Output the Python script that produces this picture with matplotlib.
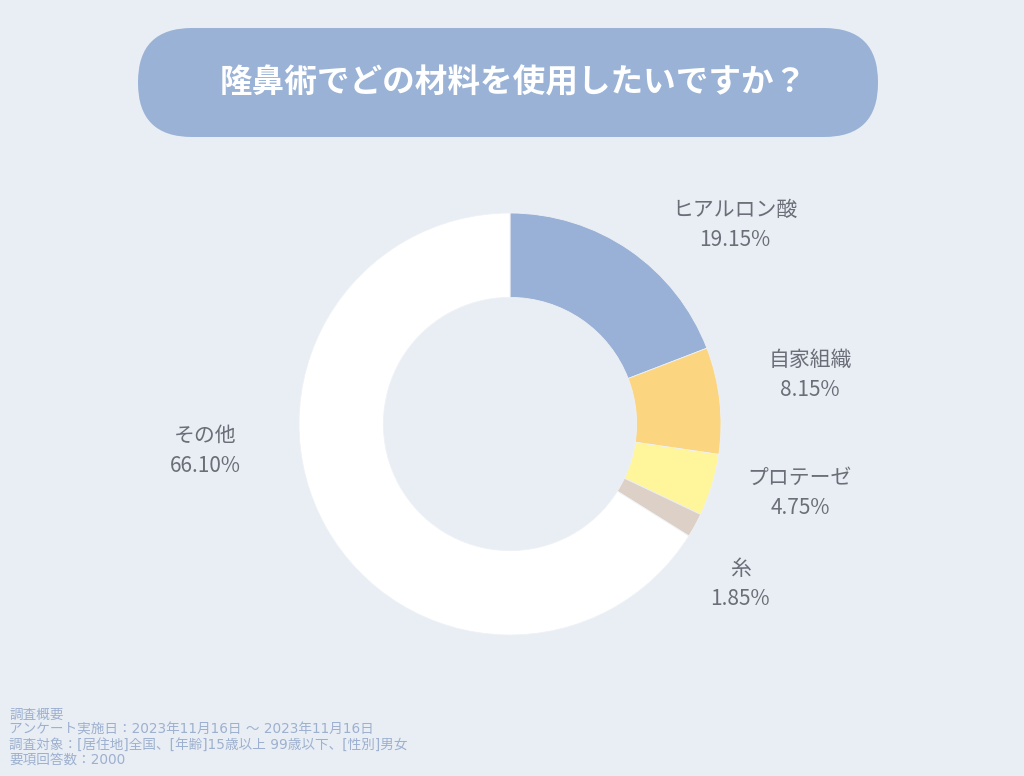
import matplotlib.pyplot as plt
from matplotlib.patches import FancyBboxPatch

plt.rcParams['font.family'] = ['Noto Sans CJK JP', 'DejaVu Sans']

# data
labels = ["ヒアルロン酸", "自家組織", "プロテーゼ", "糸", "その他"]
values = [19.15, 8.15, 4.75, 1.85, 66.10]
colors = ["#99B1D6", "#FCD581", "#FFF59B", "#DDD1C7", "#FFFFFF"]

title = "隆鼻術でどの材料を使用したいですか？"
footer = [
    "調査概要",
    "アンケート実施日：2023年11月16日 〜 2023年11月16日",
    "調査対象：[居住地]全国、[年齢]15歳以上 99歳以下、[性別]男女",
    "要項回答数：2000",
]

W, H = 1024, 776
bg = "#E9EEF5"

fig = plt.figure(figsize=(W / 100, H / 100), dpi=100, facecolor=bg)
ax = fig.add_axes([0, 0, 1, 1])
ax.set_facecolor(bg)

cx, cy, r = 510, H - 424, 211
ax.pie(values, colors=colors, startangle=90, counterclock=False,
       center=(cx, cy), radius=r,
       wedgeprops=dict(width=r * 0.4, edgecolor="#EEF1F5", linewidth=0.6))

# label positions (pixel coords, from top)
label_pos = [(735, 225), (810, 375), (800, 493), (740, 584), (205, 451)]
for lab, v, (x, y) in zip(labels, values, label_pos):
    ax.text(x, H - y, f"{lab}\n{v:.2f}%", ha="center", va="center",
            fontsize=15, color="#6B6E76", linespacing=1.45)

# title pill
pill = FancyBboxPatch((138, H - 137), 740, 109,
                      boxstyle="round,pad=0,rounding_size=54",
                      facecolor="#99B2D6", edgecolor="none")
ax.add_patch(pill)
ax.text(513, H - 83, title, ha="center", va="center", fontsize=23.5,
        fontweight="bold", color="white")

for i, line in enumerate(footer):
    ax.text(9, H - 715 - 15 * i, line, ha="left", va="center",
            fontsize=9.8, color="#9DB0CF",
            family=['DejaVu Sans', 'Noto Sans CJK JP'])

ax.set_xlim(0, W)
ax.set_ylim(0, H)
ax.set_aspect("equal")
ax.axis("off")

fig.savefig("out.png", dpi=100, facecolor=bg)
